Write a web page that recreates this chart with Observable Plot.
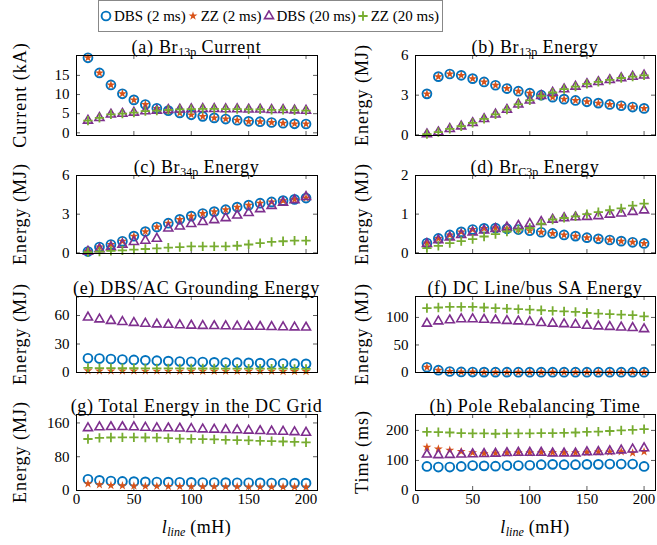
<!DOCTYPE html>
<html><head><meta charset="utf-8">
<script src="https://cdn.jsdelivr.net/npm/d3@7"></script>
<script src="https://cdn.jsdelivr.net/npm/@observablehq/plot@0.6"></script>
<style>
body{margin:0;background:#fff;}
#wrap{position:relative;width:657px;height:545px;font-family:"Liberation Serif","Times New Roman","DejaVu Serif",serif;color:#000;overflow:hidden;}
#wrap svg.plotsvg{position:absolute;}
.ttl{position:absolute;font-size:18px;letter-spacing:0.7px;white-space:nowrap;transform:translateX(-50%);line-height:18px;}
.ttl sub,.xl sub{font-size:12px;vertical-align:-3px;line-height:0;letter-spacing:0;}
.yl{position:absolute;font-size:18px;letter-spacing:1px;white-space:nowrap;transform:translate(-50%,-50%) rotate(-90deg);line-height:18px;}
.xl{position:absolute;font-size:18px;letter-spacing:0.5px;white-space:nowrap;transform:translate(-50%,-50%);line-height:18px;}
#legend{position:absolute;left:98px;top:0px;width:343px;height:30px;border:1px solid #888;display:flex;align-items:center;font-size:15px;box-sizing:content-box;white-space:nowrap;}
#legend .it{display:flex;align-items:center;flex-shrink:0;white-space:nowrap;}
#legend svg{display:block;flex-shrink:0;}
</style></head><body><div id="wrap"></div>
<script>
// ---------------- data ----------------
const lLine = [10,20,30,40,50,60,70,80,90,100,110,120,130,140,150,160,170,180,190,200];
const seriesNames = ["DBS (2 ms)", "ZZ (2 ms)", "DBS (20 ms)", "ZZ (20 ms)"];
const xTicks = [0,50,100,150,200];

// (a) Br13p Current (kA)
const aDbs2  = [19.6,15.65,12.5,10.2,8.6,7.4,6.4,5.8,5.2,4.7,4.3,3.9,3.6,3.3,3.0,2.9,2.7,2.5,2.35,2.3];
const aZz2   = [19.6,15.65,12.5,10.2,8.6,7.4,6.4,5.8,5.2,4.7,4.3,3.9,3.6,3.3,3.0,2.9,2.7,2.5,2.35,2.3];
const aDbs20 = [3.2,3.9,4.8,5.0,5.3,5.65,5.8,6.0,6.1,6.2,6.25,6.25,6.2,6.2,6.1,6.1,6.0,6.0,5.9,5.8];
const aZz20  = [3.2,3.9,4.8,5.0,5.3,5.65,5.8,6.0,6.1,6.2,6.25,6.25,6.2,6.2,6.1,6.1,6.0,6.0,5.9,5.8];
const aTicks = [0,5,10,15];

// (b) Br13p Energy (MJ)
const bDbs2  = [3.1,4.4,4.6,4.5,4.25,4.0,3.75,3.5,3.3,3.15,3.0,2.85,2.7,2.6,2.5,2.4,2.3,2.2,2.1,2.0];
const bZz2   = [3.1,4.4,4.6,4.5,4.25,4.0,3.75,3.5,3.3,3.15,3.0,2.85,2.7,2.6,2.5,2.4,2.3,2.2,2.1,2.0];
const bDbs20 = [0.05,0.2,0.45,0.65,0.9,1.2,1.55,1.9,2.3,2.6,2.95,3.2,3.45,3.65,3.85,4.0,4.15,4.3,4.4,4.5];
const bZz20  = [0.05,0.2,0.45,0.65,0.9,1.2,1.55,1.9,2.3,2.6,2.95,3.2,3.45,3.65,3.85,4.0,4.15,4.3,4.4,4.5];
const bTicks = [0,3,6];

// (c) Br34p Energy (MJ)
const cDbs2  = [0.1,0.45,0.65,0.9,1.3,1.65,2.0,2.3,2.6,2.85,3.05,3.2,3.35,3.55,3.7,3.85,3.95,4.05,4.15,4.25];
const cZz2   = [0.1,0.45,0.65,0.9,1.3,1.65,2.0,2.3,2.6,2.85,3.05,3.2,3.35,3.55,3.7,3.85,3.95,4.05,4.15,4.25];
const cDbs20 = [0.1,0.3,0.45,0.65,0.85,0.95,1.1,1.9,2.05,2.25,2.4,2.55,2.7,2.9,3.1,3.4,3.65,3.9,4.1,4.35];
const cZz20  = [0.05,0.1,0.15,0.2,0.25,0.3,0.35,0.4,0.45,0.5,0.5,0.5,0.5,0.55,0.65,0.75,0.85,0.9,0.95,0.95];
const cTicks = [0,3,6];

// (d) BrC3p Energy (MJ)
const dDbs2  = [0.25,0.37,0.46,0.54,0.6,0.63,0.64,0.62,0.6,0.57,0.53,0.5,0.46,0.43,0.39,0.36,0.33,0.3,0.27,0.24];
const dZz2   = [0.25,0.37,0.46,0.54,0.6,0.63,0.64,0.62,0.6,0.57,0.53,0.5,0.46,0.43,0.39,0.36,0.33,0.3,0.27,0.24];
const dDbs20 = [0.23,0.33,0.4,0.46,0.53,0.58,0.62,0.66,0.7,0.75,0.8,0.86,0.9,0.92,0.93,0.95,0.99,1.02,1.06,1.1];
const dZz20  = [0.12,0.18,0.25,0.3,0.35,0.42,0.48,0.55,0.6,0.64,0.75,0.86,0.9,0.94,1.0,1.05,1.1,1.15,1.22,1.27];
const dTicks = [0,1,2];

// (e) DBS/AC Grounding Energy (MJ)
const eDbs2  = [15,14.7,14.2,13.7,13.2,12.8,12.4,12.0,11.6,11.3,11.0,10.7,10.5,10.3,10.1,9.9,9.7,9.5,9.3,9.1];
const eZz2   = [1.8,1.7,1.7,1.6,1.6,1.5,1.5,1.5,1.4,1.4,1.4,1.4,1.3,1.3,1.3,1.3,1.3,1.2,1.2,1.2];
const eDbs20 = [58,56,54.5,53.3,52.3,51.5,50.8,50.3,49.9,49.5,49.2,49,48.8,48.6,48.4,48.2,48,47.8,47.6,47.4];
const eZz20  = [4.8,4.7,4.6,4.5,4.5,4.4,4.4,4.3,4.3,4.2,4.2,4.2,4.1,4.1,4.1,4.0,4.0,4.0,3.9,3.9];
const eTicks = [0,30,60];

// (f) DC Line/bus SA Energy (MJ)
const fDbs2  = [9.5,4.2,1.8,1.0,0.8,0.7,0.6,0.6,0.5,0.5,0.5,0.5,0.5,0.5,0.5,0.5,0.5,0.5,0.5,0.5];
const fZz2   = [9.5,4.2,1.8,1.0,0.8,0.7,0.6,0.6,0.5,0.5,0.5,0.5,0.5,0.5,0.5,0.5,0.5,0.5,0.5,0.5];
const fDbs20 = [89,93,95,97,97,96,95,94,93,92,90,89,88,87,85,84,83,82,81,79];
const fZz20  = [117,118,119,119,119,118,117,116,115,114,113,112,111,110,108,107,106,105,104,102];
const fTicks = [0,50,100];

// (g) Total Energy in the DC Grid (MJ)
const gDbs2  = [26.5,24,22.5,21.5,21,20.5,20,19.8,19.5,19.2,19,18.8,18.6,18.4,18.2,18,17.8,17.7,17.5,17.4];
const gZz2   = [16,13.5,12,11.2,10.6,10.2,9.9,9.7,9.5,9.3,9.1,9,8.9,8.8,8.7,8.6,8.5,8.4,8.3,8.2];
const gDbs20 = [148,150,150.5,150.5,150,149,148,147.5,147,146,145,144.5,143.5,143,142,141,140,139.5,138.5,137];
const gZz20  = [122,124.5,125.5,126,126,125.5,125,124,123,122.5,121.5,121,120,119.5,118.5,117.5,117,116,115,114];
const gTicks = [0,80,160];

// (h) Pole Rebalancing Time (ms)
const hDbs2  = [80,78,78,80,83,82,81,83,83,84,86,87,86,86,87,87,88,88,88,80];
const hZz2   = [144,138,134,130,126,123,124,125,126,126,127,127,126,126,127,128,128,129,125,129];
const hDbs20 = [120,118,119,120,121,122,123,125,126,126,126,124,124,124,128,129,131,134,137,141];
const hZz20  = [195,194,193,191,190,190,189,190,190,190,191,191,192,193,195,196,198,200,202,204];
const hTicks = [0,100,200];

// ---------------- styles / layout ----------------
const COLORS  = ["#0072BD","#D95319","#7E2F8E","#77AC30"];
const SYMBOLS = ["circle","star","triangle2","plus"];
const RADII   = [4.4, 2.8, 4.3, 3.1];
const FILLS   = ["none", COLORS[1], "none", "none"];
const STROKES = [COLORS[0], "none", COLORS[2], COLORS[3]];
const SWIDTH  = [1.9, 0, 1.6, 1.8];

const cols = [
  {svgLeft:0,   frameLeft:76,  frameRight:317, mr:13, ylx:20},
  {svgLeft:330, frameLeft:415, frameRight:655, mr:2,  ylx:362}
];
const rows = [
  {top:55,  bottom:135},
  {top:175, bottom:253},
  {top:296, bottom:372},
  {top:414, bottom:490}
];

const panels = [
  {title:'(a) Br<sub>13p</sub> Current', yl:"Current (kA)", c:0, r:0, yd:[-0.7,20.2], yt:aTicks, s:[aDbs2,aZz2,aDbs20,aZz20]},
  {title:'(b) Br<sub>13p</sub> Energy', yl:"Energy (MJ)", c:1, r:0, yd:[-0.05,6], yt:bTicks, s:[bDbs2,bZz2,bDbs20,bZz20]},
  {title:'(c) Br<sub>34p</sub> Energy', yl:"Energy (MJ)", c:0, r:1, yd:[-0.05,6], yt:cTicks, s:[cDbs2,cZz2,cDbs20,cZz20]},
  {title:'(d) Br<sub>C3p</sub> Energy', yl:"Energy (MJ)", c:1, r:1, yd:[-0.02,2], yt:dTicks, s:[dDbs2,dZz2,dDbs20,dZz20]},
  {title:'(e) DBS/AC Grounding Energy', yl:"Energy (MJ)", c:0, r:2, yd:[0,80], yt:eTicks, s:[eDbs2,eZz2,eDbs20,eZz20]},
  {title:'(f) DC Line/bus SA Energy', yl:"Energy (MJ)", c:1, r:2, yd:[0,138], yt:fTicks, s:[fDbs2,fZz2,fDbs20,fZz20]},
  {title:'(g) Total Energy in the DC Grid', yl:"Energy (MJ)", c:0, r:3, yd:[0,180], yt:gTicks, s:[gDbs2,gZz2,gDbs20,gZz20]},
  {title:'(h) Pole Rebalancing Time', yl:"Time (ms)", c:1, r:3, yd:[0,253], yt:hTicks, s:[hDbs2,hZz2,hDbs20,hZz20]}
];

const wrap = document.getElementById("wrap");
const FONT = "'Liberation Serif', 'Times New Roman', 'DejaVu Serif', serif";
const fmt = d => String(d);

for (const p of panels) {
  const col = cols[p.c], row = rows[p.r];
  const mt = 12, mb = p.r === 3 ? 30 : 12;
  const innerW = col.frameRight - col.frameLeft;
  const innerH = row.bottom - row.top;
  const ml = col.frameLeft - col.svgLeft;
  const width = ml + innerW + col.mr;
  const height = mt + innerH + mb;
  const data = lLine.flatMap((x, i) => p.s.map((arr, k) => ({x, y: arr[i], k})));
  const tickStyle = {stroke: "#333", strokeWidth: 0.8};
  const marks = [
    Plot.ruleX(xTicks, {x: d => d, insetTop: innerH - 4, ...tickStyle}),
    Plot.ruleX(xTicks, {x: d => d, insetBottom: innerH - 4, ...tickStyle}),
    Plot.ruleY(p.yt, {y: d => d, insetRight: innerW - 4, ...tickStyle}),
    Plot.ruleY(p.yt, {y: d => d, insetLeft: innerW - 4, ...tickStyle}),
    Plot.axisY({ticks: p.yt, tickFormat: fmt, tickSize: 0, tickPadding: 7, label: null, fontSize: 15, fontFamily: FONT}),
  ];
  if (p.r === 3) marks.push(Plot.axisX({ticks: xTicks, tickFormat: fmt, tickSize: 0, tickPadding: 3, label: null, fontSize: 15, fontFamily: FONT}));
  for (let k = 0; k < 4; k++) {
    marks.push(Plot.dot(data.filter(d => d.k === k), {
      x: "x", y: "y", symbol: SYMBOLS[k], r: RADII[k],
      fill: FILLS[k], stroke: STROKES[k], strokeWidth: SWIDTH[k]
    }));
  }
  marks.push(Plot.frame({stroke: "#000", strokeWidth: 1}));
  const svg = Plot.plot({
    width, height, marginLeft: ml, marginRight: col.mr, marginTop: mt, marginBottom: mb,
    style: {background: "transparent", fontFamily: FONT, fontSize: "15px", color: "#000", overflow: "visible"},
    x: {domain: [0, 210], axis: null},
    y: {domain: p.yd, axis: null},
    marks
  });
  svg.classList.add("plotsvg");
  svg.style.position = "absolute";
  svg.style.left = col.svgLeft + "px";
  svg.style.top = (row.top - mt) + "px";
  svg.style.maxWidth = "none";
  wrap.appendChild(svg);

  const t = document.createElement("div");
  t.className = "ttl";
  t.innerHTML = p.title;
  t.style.left = ((col.frameLeft + col.frameRight) / 2) + "px";
  t.style.top = (row.top - 17) + "px";
  wrap.appendChild(t);

  const yl = document.createElement("div");
  yl.className = "yl";
  yl.textContent = p.yl;
  yl.style.left = col.ylx + "px";
  yl.style.top = ((row.top + row.bottom) / 2) + "px";
  wrap.appendChild(yl);

  if (p.r === 3) {
    const xl = document.createElement("div");
    xl.className = "xl";
    xl.innerHTML = '<i>l</i><sub><i>line</i></sub> (mH)';
    xl.style.left = ((col.frameLeft + col.frameRight) / 2) + "px";
    xl.style.top = "527px";
    wrap.appendChild(xl);
  }
}

// legend
const legend = document.createElement("div");
legend.id = "legend";
const d3types = [d3.symbolCircle, d3.symbolStar, d3.symbolTriangle2, d3.symbolPlus];
seriesNames.forEach((name, k) => {
  const it = document.createElement("div");
  it.className = "it";
  it.style.marginLeft = k === 0 ? "1px" : "1px";
  const s = d3.create("svg").attr("width", 12).attr("height", 12);
  s.append("path")
    .attr("transform", "translate(6,6)")
    .attr("d", d3.symbol(d3types[k], Math.PI * RADII[k] * RADII[k])())
    .attr("fill", FILLS[k]).attr("stroke", STROKES[k]).attr("stroke-width", SWIDTH[k]);
  it.appendChild(s.node());
  const tx = document.createElement("span");
  tx.textContent = name;
  tx.style.marginLeft = "2px";
  it.appendChild(tx);
  legend.appendChild(it);
});
wrap.appendChild(legend);
</script></body></html>
